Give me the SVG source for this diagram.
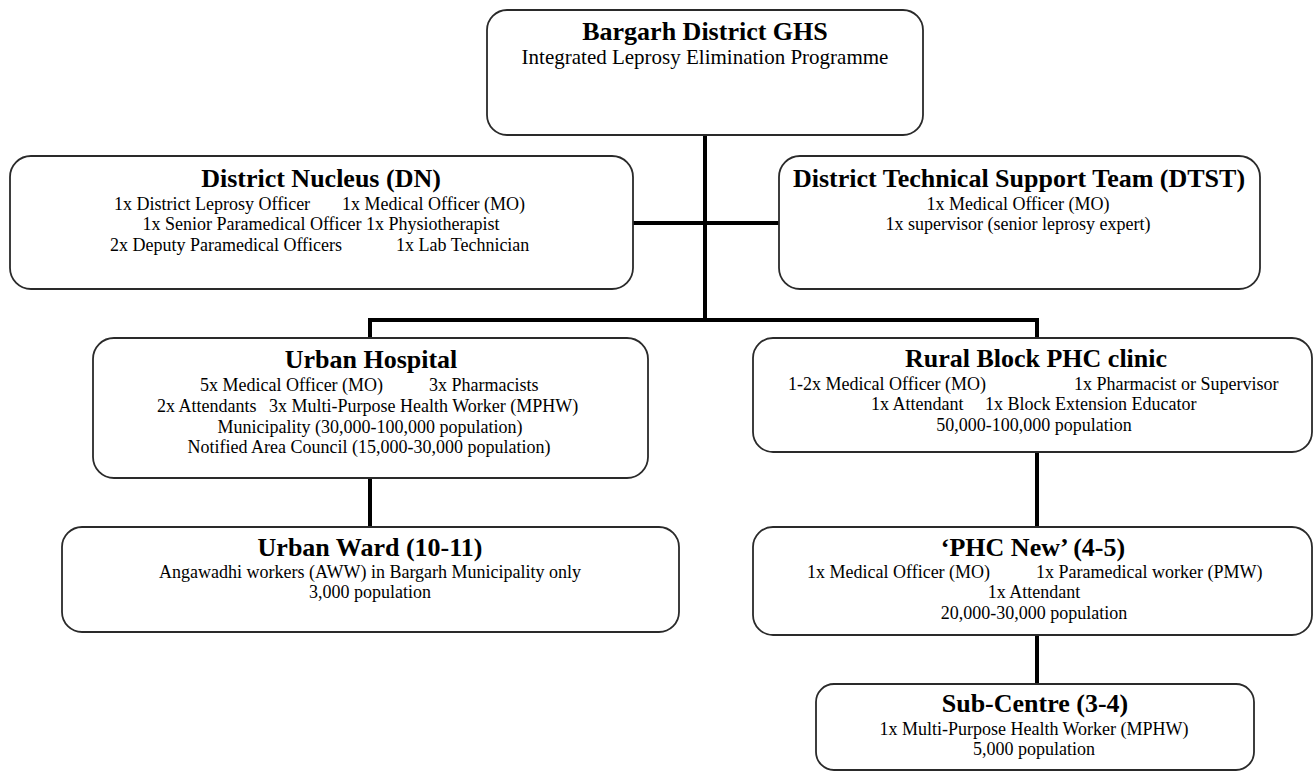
<svg xmlns="http://www.w3.org/2000/svg" width="1315" height="773" viewBox="0 0 1315 773">
<style>
  .box { fill: #ffffff; stroke: #2a2a2a; stroke-width: 1.8; }
  .conn { stroke: #000000; stroke-width: 4; fill: none; stroke-linecap: butt; }
  text { font-family: "Liberation Serif", "Times New Roman", serif; fill: #000000; }
  .t { font-size: 26px; font-weight: bold; text-anchor: middle; }
  .sub { font-size: 21px; text-anchor: middle; }
  .b { font-size: 18px; }
  .c { text-anchor: middle; }
</style>
<rect width="1315" height="773" fill="#ffffff"/>
<g id="connectors">
  <line class="conn" x1="705" y1="135" x2="705" y2="322"/>
  <line class="conn" x1="633" y1="223" x2="779" y2="223"/>
  <polyline class="conn" points="370,338 370,320 1037,320 1037,338"/>
  <line class="conn" x1="370" y1="478" x2="370" y2="527"/>
  <line class="conn" x1="1037" y1="452" x2="1037" y2="527"/>
  <line class="conn" x1="1037" y1="635" x2="1037" y2="684"/>
</g>
<g id="ghs">
  <rect class="box" x="487" y="10" width="436" height="125" rx="20"/>
  <text class="t" x="705" y="40">Bargarh District GHS</text>
  <text class="sub" x="705" y="64">Integrated Leprosy Elimination Programme</text>
</g>
<g id="dn">
  <rect class="box" x="10" y="156" width="623" height="133" rx="21"/>
  <text class="t" x="321" y="187">District Nucleus (DN)</text>
  <text class="b" x="114" y="210">1x District Leprosy Officer</text>
  <text class="b" x="342" y="210">1x Medical Officer (MO)</text>
  <text class="b c" x="321" y="230">1x Senior Paramedical Officer 1x Physiotherapist</text>
  <text class="b" x="110" y="251">2x Deputy Paramedical Officers</text>
  <text class="b" x="396" y="251">1x Lab Technician</text>
</g>
<g id="dtst">
  <rect class="box" x="779" y="156" width="481" height="133" rx="21"/>
  <text class="t" x="1019" y="187">District Technical Support Team (DTST)</text>
  <text class="b c" x="1018" y="210">1x Medical Officer (MO)</text>
  <text class="b c" x="1018" y="230">1x supervisor (senior leprosy expert)</text>
</g>
<g id="urban-hospital">
  <rect class="box" x="93" y="338" width="555" height="140" rx="21"/>
  <text class="t" x="371" y="368">Urban Hospital</text>
  <text class="b" x="200" y="391">5x Medical Officer (MO)</text>
  <text class="b" x="429" y="391">3x Pharmacists</text>
  <text class="b" x="157" y="412">2x Attendants</text>
  <text class="b" x="269" y="412">3x Multi-Purpose Health Worker (MPHW)</text>
  <text class="b c" x="370" y="433">Municipality (30,000-100,000 population)</text>
  <text class="b c" x="369" y="453">Notified Area Council (15,000-30,000 population)</text>
</g>
<g id="rural-block">
  <rect class="box" x="753" y="338" width="559" height="114" rx="20"/>
  <text class="t" x="1036" y="367">Rural Block PHC clinic</text>
  <text class="b" x="788" y="390">1-2x Medical Officer (MO)</text>
  <text class="b" x="1074" y="390">1x Pharmacist or Supervisor</text>
  <text class="b" x="871" y="410">1x Attendant</text>
  <text class="b" x="985" y="410">1x Block Extension Educator</text>
  <text class="b c" x="1034" y="431">50,000-100,000 population</text>
</g>
<g id="urban-ward">
  <rect class="box" x="62" y="527" width="617" height="105" rx="20"/>
  <text class="t" x="370" y="556">Urban Ward (10-11)</text>
  <text class="b c" x="370" y="578">Angawadhi workers (AWW) in Bargarh Municipality only</text>
  <text class="b c" x="370" y="598">3,000 population</text>
</g>
<g id="phc-new">
  <rect class="box" x="753" y="527" width="559" height="108" rx="20"/>
  <text class="t" x="1033" y="556">‘PHC New’ (4-5)</text>
  <text class="b" x="807" y="578">1x Medical Officer (MO)</text>
  <text class="b" x="1036" y="578">1x Paramedical worker (PMW)</text>
  <text class="b c" x="1034" y="598">1x Attendant</text>
  <text class="b c" x="1034" y="619">20,000-30,000 population</text>
</g>
<g id="sub-centre">
  <rect class="box" x="816" y="684" width="438" height="86" rx="18"/>
  <text class="t" x="1035" y="712">Sub-Centre (3-4)</text>
  <text class="b c" x="1034" y="735">1x Multi-Purpose Health Worker (MPHW)</text>
  <text class="b c" x="1034" y="755">5,000 population</text>
</g>
</svg>
